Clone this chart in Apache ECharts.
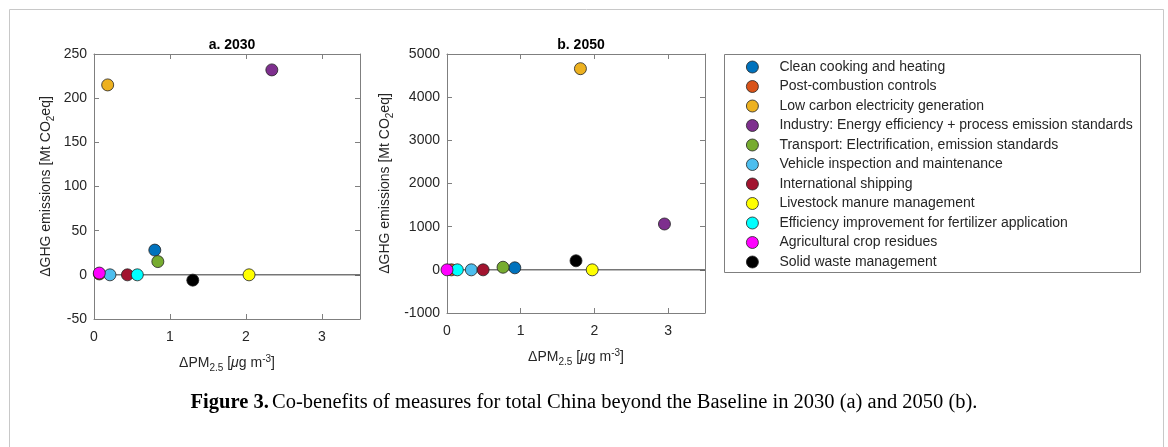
<!DOCTYPE html>
<html>
<head>
<meta charset="utf-8">
<script src="https://cdn.jsdelivr.net/npm/echarts@6/dist/echarts.min.js"></script>
<style>
	html, body { margin: 0; padding: 0; background: #fff; }
	#chart { width: 1168px; height: 447px; }
</style>
</head>
<body>
<div id="chart"></div>
<script>
	// measures, in legend order
	var measures = [
		'Clean cooking and heating',
		'Post-combustion controls',
		'Low carbon electricity generation',
		'Industry: Energy efficiency + process emission standards',
		'Transport: Electrification, emission standards',
		'Vehicle inspection and maintenance',
		'International shipping',
		'Livestock manure management',
		'Efficiency improvement for fertilizer application',
		'Agricultural crop residues',
		'Solid waste management'
	];
	var colors = ['#0072BD', '#D95319', '#EDB120', '#7E2F8E', '#77AC30', '#4DBEEE',
		'#A2142F', '#FFFF00', '#00FFFF', '#FF00FF', '#000000'];

	// 2030: delta PM2.5 [ug m-3] and delta GHG [Mt CO2eq]
	var pm2030 = [0.80, 0.07, 0.18, 2.34, 0.84, 0.21, 0.44, 2.04, 0.57, 0.07, 1.30];
	var ghg2030 = [28, 1, 215, 232, 15, 0, 0, 0, 0, 2, -6];

	// 2050
	var pm2050 = [0.92, 0.06, 1.81, 2.95, 0.76, 0.33, 0.49, 1.97, 0.14, 0.00, 1.75];
	var ghg2050 = [47, 0, 4660, 1062, 60, 0, 0, 0, 0, 0, 210];

	var xTicks = [0, 1, 2, 3];

	var axisGray = '#7f7f7f';
	var labelColor = '#262626';
	var font = 'Liberation Sans';

	function xAxes(gi) {
		var base = {
			gridIndex: gi, type: 'value', min: 0, max: 3.5, interval: 1,
			axisLine: { show: true, onZero: false, lineStyle: { color: axisGray } },
			axisTick: { show: true, inside: true, length: 5, lineStyle: { color: axisGray } },
			splitLine: { show: false }
		};
		return [
			Object.assign({}, base, {
				position: 'bottom',
				axisLabel: {
					color: labelColor, fontFamily: font, fontSize: 14, margin: 11,
					formatter: function (v) { return xTicks.indexOf(v) >= 0 ? String(v) : ''; }
				},
				name: '{a|ΔPM}{sub|2.5}{a| [}{i|μ}{a|g m}{sup|-3}{a|]}',
				nameLocation: 'middle', nameGap: 34,
				nameTextStyle: {
					rich: {
						a: { fontFamily: font, fontSize: 14, color: labelColor },
						i: { fontFamily: font, fontSize: 14, color: labelColor, fontStyle: 'italic' },
						sub: { fontFamily: font, fontSize: 10, color: labelColor, padding: [10, 0, 0, 0] },
						sup: { fontFamily: font, fontSize: 10, color: labelColor, padding: [0, 0, 8, 0] }
					}
				}
			}),
			Object.assign({}, base, { position: 'top', axisLabel: { show: false } })
		];
	}

	function yAxes(gi, min, max, step) {
		var base = {
			gridIndex: gi, type: 'value', min: min, max: max, interval: step,
			axisLine: { show: true, onZero: false, lineStyle: { color: axisGray } },
			axisTick: { show: true, inside: true, length: 5, lineStyle: { color: axisGray } },
			splitLine: { show: false }
		};
		return [
			Object.assign({}, base, {
				position: 'left',
				axisLabel: {
					color: labelColor, fontFamily: font, fontSize: 14, margin: 7,
					formatter: function (v) { return String(v); }
				},
				name: '{a|ΔGHG emissions [Mt CO}{sub|2}{a|eq]}',
				nameLocation: 'middle', nameGap: gi === 0 ? 38 : 52, nameRotate: 90,
				nameTextStyle: {
					rich: {
						a: { fontFamily: font, fontSize: 14, color: labelColor },
						sub: { fontFamily: font, fontSize: 10, color: labelColor, padding: [10, 0, 0, 0] }
					}
				}
			}),
			Object.assign({}, base, { position: 'right', axisLabel: { show: false } })
		];
	}

	function panelSeries(gi, pm, ghg) {
		var list = [{
			type: 'line', xAxisIndex: gi * 2, yAxisIndex: gi * 2,
			data: [[0, 0], [3.5, 0]], symbol: 'none', silent: true, z: 1,
			lineStyle: { color: '#333', width: 1 }
		}];
		measures.forEach(function (name, i) {
			list.push({
				name: name, type: 'scatter', xAxisIndex: gi * 2, yAxisIndex: gi * 2,
				data: [[pm[i], ghg[i]]], symbol: 'circle', symbolSize: 12, z: 3,
				itemStyle: { color: colors[i], borderColor: '#222', borderWidth: 0.8, opacity: 1 }
			});
		});
		return list;
	}

	var chart = echarts.init(document.getElementById('chart'));
	var option = {
		animation: false,
		backgroundColor: '#fff',
		title: [
			{ text: 'a. 2030', left: 227, top: 33, textAlign: 'center',
				textStyle: { fontFamily: font, fontSize: 14, fontWeight: 'bold', color: '#000' } },
			{ text: 'b. 2050', left: 576, top: 33, textAlign: 'center',
				textStyle: { fontFamily: font, fontSize: 14, fontWeight: 'bold', color: '#000' } }
		],
		grid: [
			{ left: 94, top: 54, width: 266, height: 265 },
			{ left: 447, top: 54, width: 258, height: 259 }
		],
		xAxis: xAxes(0).concat(xAxes(1)),
		yAxis: yAxes(0, -50, 250, 50).concat(yAxes(1, -1000, 5000, 1000)),
		legend: {
			orient: 'vertical', left: 724, top: 54,
			padding: [6, 10, 6, 22],
			itemWidth: 12, itemHeight: 12, itemGap: 5.5,
			icon: 'circle',
			data: measures,
			selectedMode: false,
			itemStyle: { borderColor: '#222', borderWidth: 0.8 },
			textStyle: { fontFamily: font, fontSize: 14, lineHeight: 14, color: labelColor, padding: [0, 0, 0, 16] }
		},
		graphic: [
			{ type: 'rect', silent: true, shape: { x: 9.5, y: 9.5, width: 1154, height: 450 },
				style: { fill: 'none', stroke: '#c8c8c8', lineWidth: 1 } },
			{ type: 'rect', silent: true, shape: { x: 724.5, y: 54.5, width: 416, height: 218 },
				style: { fill: 'none', stroke: '#7f7f7f', lineWidth: 1 } },
			{ type: 'text', left: 'center', top: 392,
				style: {
					text: '{b|Figure 3.} {n|Co-benefits of measures for total China beyond the Baseline in 2030 (a) and 2050 (b).}',
					rich: {
						b: { fontFamily: 'Liberation Serif', fontSize: 20.5, fontWeight: 'bold', fill: '#000' },
						n: { fontFamily: 'Liberation Serif', fontSize: 20.5, fill: '#000' }
					}
				} }
		],
		series: panelSeries(0, pm2030, ghg2030).concat(panelSeries(1, pm2050, ghg2050))
	};
	chart.setOption(option);
</script>
</body>
</html>
